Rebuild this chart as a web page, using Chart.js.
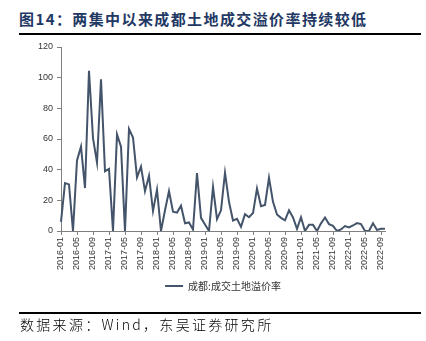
<!DOCTYPE html>
<html>
<head>
<meta charset="utf-8">
<script src="https://cdn.jsdelivr.net/npm/chart.js@4.4.0/dist/chart.umd.min.js"></script>
<style>
    body { margin: 0; background: #fff; }
    #wrap { position: relative; width: 426px; height: 341px; overflow: hidden; }
    #title { position: absolute; left: 19px; top: 8px; font-family: "Noto Sans CJK SC"; font-weight: bold; font-size: 15px; letter-spacing: 1.4px; color: #1f3864; white-space: nowrap; }
    .rule { position: absolute; left: 19px; width: 402px; height: 1.5px; background: #000; }
    #source { position: absolute; left: 20px; top: 314px; font-family: "Noto Sans CJK SC"; font-weight: 300; font-size: 14px; letter-spacing: 2.3px; color: #000; white-space: nowrap; }
    #chartBox { position: absolute; left: 0; top: 0; width: 426px; height: 341px; }
</style>
</head>
<body>
<div id="wrap">
    <div id="title">图14：两集中以来成都土地成交溢价率持续较低</div>
    <div class="rule" style="top:33px"></div>
    <div id="chartBox"><canvas id="myChart"></canvas></div>
    <div class="rule" style="top:312px"></div>
    <div id="source">数据来源：Wind，东吴证券研究所</div>
</div>
<script>
// 月份 2016-01 ... 2022-10
var months = [];
for (var y = 2016; y <= 2022; y++) {
    for (var m = 1; m <= 12; m++) {
        if (y === 2022 && m > 10) break;
        months.push(y + '-' + (m < 10 ? '0' + m : m));
    }
}

// 成都:成交土地溢价率 (%)
var premiumRate = [
    6, 31.3, 30.4, 0, 46, 55, 28, 104.5, 60.5, 44.6, 99, 39,
    40.5, 0, 63, 55, 0, 66.6, 61, 35, 42, 26, 36, 13,
    27, 0, 13.5, 26, 12.6, 12, 16.5, 5, 5.6, 1, 37.8, 8.6,
    4.3, 0, 28.8, 7.7, 13.5, 38, 19, 6.8, 7.9, 2.7, 11, 9,
    11.7, 27.7, 16.2, 17, 34.7, 19, 10.8, 8.6, 7, 13.5, 8.8, 1.4,
    9, 0, 4, 4, 0, 5, 8.8, 4.5, 3.4, 0, 1, 3.2,
    2.3, 3.6, 5.2, 4.5, 0, 0, 5, 0.7, 1.4, 1.4
];

var seriesLabel = '成都:成交土地溢价率';
var yTicks = [0, 20, 40, 60, 80, 100, 120];

var lineColor = '#44546a';
var axisColor = '#7f7f7f';

var ctx = document.getElementById('myChart');
var myChart = new Chart(ctx, {
    type: 'line',
    data: {
        labels: months,
        datasets: [{
            label: seriesLabel,
            data: premiumRate,
            borderColor: lineColor,
            backgroundColor: lineColor,
            borderWidth: 2,
            pointRadius: 0,
            tension: 0,
            fill: false
        }]
    },
    options: {
        responsive: true,
        maintainAspectRatio: false,
        animation: false,
        layout: { padding: { left: 0, right: 41, top: 47, bottom: 40 } },
        scales: {
            x: {
                offset: false,
                afterBuildTicks: function (scale) {
                    // každé 4 měsíce
                    scale.ticks = scale.ticks.filter(function (t, i) { return i % 4 === 0; });
                },
                afterFit: function (scale) { scale.height = 42; },
                grid: { display: true, drawOnChartArea: false, drawTicks: true, tickLength: 4, color: axisColor },
                border: { display: true, color: axisColor, width: 1 },
                ticks: {
                    autoSkip: false,
                    minRotation: 90,
                    maxRotation: 90,
                    padding: 2,
                    color: '#333',
                    font: { family: 'Liberation Sans', size: 9 }
                }
            },
            y: {
                min: 0,
                max: 120,
                afterBuildTicks: function (scale) {
                    scale.ticks = yTicks.map(function (v) { return { value: v }; });
                },
                afterFit: function (scale) { scale.width = 61; },
                grid: { display: true, drawOnChartArea: false, drawTicks: true, tickLength: 4, color: axisColor },
                border: { display: true, color: axisColor, width: 1 },
                ticks: {
                    padding: 4,
                    color: '#333',
                    font: { family: 'Liberation Sans', size: 9 }
                }
            }
        },
        plugins: {
            legend: {
                position: 'bottom',
                fullSize: false, // legenda jen pod oblastí grafu
                onClick: function (event) { },
                labels: {
                    usePointStyle: true,
                    pointStyle: 'line',
                    pointStyleWidth: 18,
                    boxHeight: 10,
                    padding: 8,
                    color: '#333',
                    font: { family: 'Noto Sans CJK SC', size: 10 }
                }
            },
            tooltip: { enabled: false }
        }
    }
});
</script>
</body>
</html>
